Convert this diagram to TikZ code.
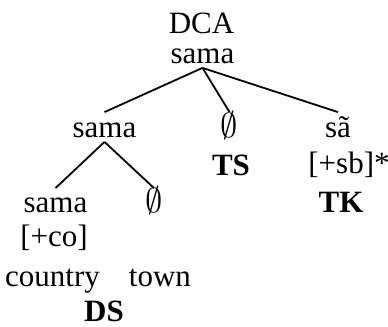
\documentclass[tikz,border=0pt]{standalone}
\usepackage{fontspec}
\setmainfont{Liberation Serif}
\usepackage{tikz}
\tikzset{every picture/.style={line width=0.9pt}}
\tikzset{word/.style={inner sep=0pt, text height=0.7em, text depth=0.2em, anchor=base,
  font=\fontsize{15.5}{17}\selectfont}}
\newcommand{\nullseg}{{\fontsize{17}{18}\selectfont$\emptyset$}}

\begin{document}
\begin{tikzpicture}[x=0.5pt, y=-0.5pt]
\useasboundingbox (0,0) rectangle (388,327);
\node[word] (dca) at (201.5,33) {DCA};
\node[word] (top) at (202.5,63) {sama};
%
\node[word] (left) at (104.5,137) {sama};
\node[word] (mid) at (229.5,137) {\nullseg};
\node[word] (right) at (338,137) {sã};
\node[word] (ts) at (231,176) {\textbf{TS}};
\node[word] (sb) at (349,174) {[+sb]*};
\node[word] (tk) at (341,213) {\textbf{TK}};
%
\node[word] (ll) at (55.5,213) {sama};
\node[word] (lr) at (154,213) {\nullseg};
\node[word] (co) at (54,247) {[+co]};
\node[word] (country) at (52.5,287) {country};
\node[word] (town) at (160,287) {town};
\node[word] (ds) at (104,322) {\textbf{DS}};
%
\foreach \Source/\Target in {%
        top/left,
        top/mid,
        top/right,
        left/ll,
        left/lr%
    }
\draw (\Source.south) to ([yshift=5pt]\Target.north);
\end{tikzpicture}
\end{document}
